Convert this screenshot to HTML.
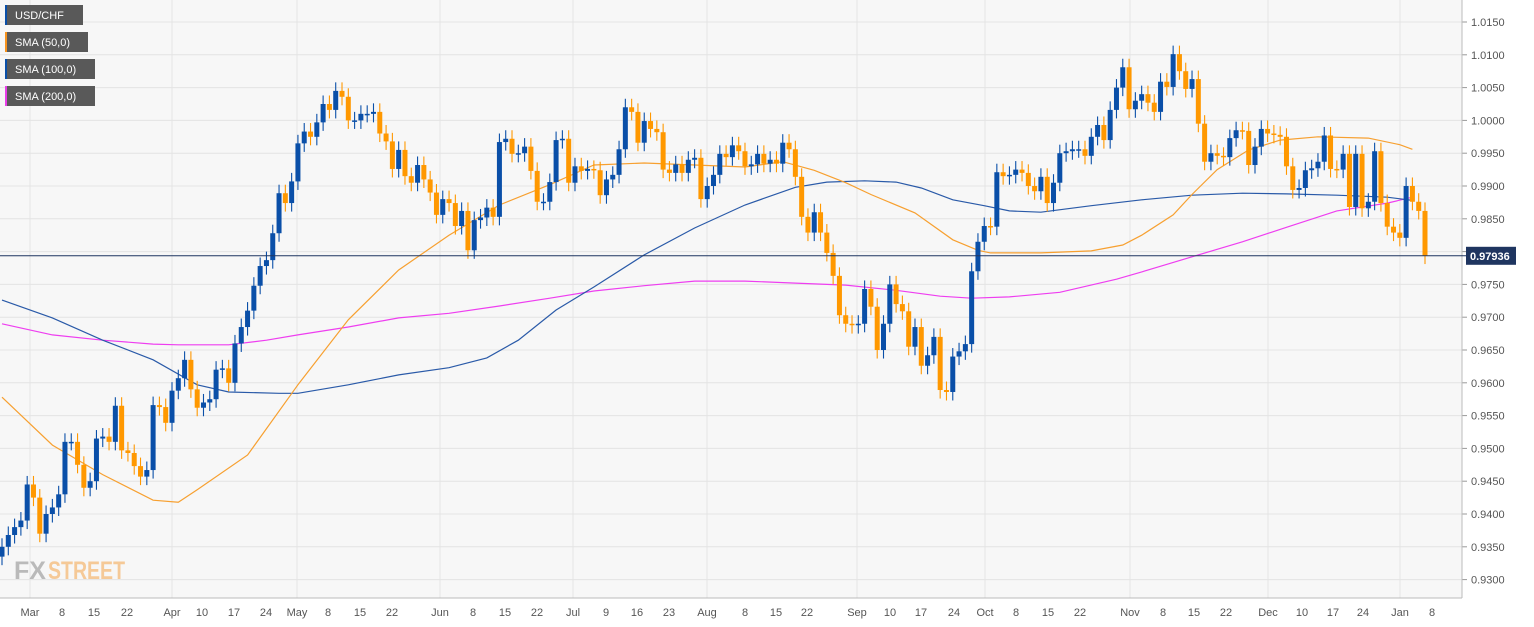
<!DOCTYPE html>
<html><head><meta charset="utf-8">
<style>
body{margin:0;background:#fff;font-family:"Liberation Sans",sans-serif;}
svg{display:block}
</style></head>
<body>
<svg id="chart" width="1534" height="627" xmlns="http://www.w3.org/2000/svg">
<rect x="0" y="0" width="1462" height="598" fill="#f7f7f7"/>
<rect x="1462" y="0" width="72" height="627" fill="#ffffff"/>
<rect x="0" y="598" width="1462" height="29" fill="#ffffff"/>
<g id="grid"></g>
<g id="yaxis"></g>
<g id="xaxis"></g>
<g opacity="0.55">
<text x="14" y="579" font-size="25" font-weight="bold" fill="#8a8a8a" font-family="Liberation Sans, sans-serif" textLength="32" lengthAdjust="spacingAndGlyphs">FX</text>
<text x="48" y="579" font-size="25" font-weight="bold" fill="#f5a54a" font-family="Liberation Sans, sans-serif" textLength="77" lengthAdjust="spacingAndGlyphs">STREET</text>
</g>
<g id="sma"></g>
<g id="candles"></g>
<g id="last"></g>
<g font-size="11" fill="#fff">
<g><rect x="5" y="5" width="78" height="20" fill="#595959"/><rect x="5" y="5" width="2" height="20" fill="#0a4fa8"/><text x="15" y="19" fill="#fff">USD/CHF</text></g>
<g><rect x="5" y="32" width="83" height="20" fill="#595959"/><rect x="5" y="32" width="2" height="20" fill="#f7931e"/><text x="15" y="46" fill="#fff">SMA (50,0)</text></g>
<g><rect x="5" y="59" width="90" height="20" fill="#595959"/><rect x="5" y="59" width="2" height="20" fill="#0a4fa8"/><text x="15" y="73" fill="#fff">SMA (100,0)</text></g>
<g><rect x="5" y="86" width="90" height="20" fill="#595959"/><rect x="5" y="86" width="2" height="20" fill="#e83ee8"/><text x="15" y="100" fill="#fff">SMA (200,0)</text></g>
</g>
</svg>
<script>
const closes=[0.9350,0.9368,0.9380,0.9390,0.9445,0.9425,0.9370,0.9400,0.9410,0.9430,0.9510,0.9510,0.9475,0.9440,0.9450,0.9515,0.9518,0.9510,0.9565,0.9497,0.9493,0.9473,0.9457,0.9467,0.9566,0.9563,0.9539,0.9588,0.9607,0.9635,0.9590,0.9562,0.9570,0.9575,0.9620,0.9622,0.9600,0.9660,0.9685,0.9710,0.9748,0.9778,0.9787,0.9828,0.9889,0.9874,0.9907,0.9965,
0.9983,0.9975,0.9997,1.0025,1.0016,1.0045,1.0036,1.0000,1.0000,1.0010,1.0010,1.0013,0.9980,0.9968,0.9926,0.9955,0.9915,0.9905,0.9932,0.9910,0.9890,0.9856,0.9880,0.9874,0.9839,0.9862,0.9802,0.9848,0.9852,0.9867,0.9853,0.9967,0.9972,0.9949,0.9950,0.9960,0.9923,0.9876,0.9876,0.9906,0.9970,0.9972,0.9905,0.9930,0.9923,0.9926,0.9924,
0.9886,0.9910,0.9917,0.9956,1.0020,1.0013,0.9966,0.9999,0.9987,0.9982,0.9925,0.9920,0.9933,0.9920,0.9940,0.9943,0.9880,0.9900,0.9917,0.9949,0.9944,0.9962,0.9953,0.9930,0.9933,0.9949,0.9934,0.9940,0.9934,0.9966,0.9956,0.9914,0.9853,0.9829,0.9860,0.9829,0.9798,0.9763,0.9703,0.9690,0.9688,0.9690,0.9743,0.9716,0.9650,0.9690,0.9750,0.9720,0.9709,0.9655,0.9685,0.9626,0.9642,0.9670,0.9589,0.9586,0.9640,0.9648,0.9659,0.9770,0.9815,
0.9839,0.9838,0.9921,0.9915,0.9917,0.9925,0.9920,0.9900,0.9892,0.9914,0.9874,0.9905,0.9950,0.9953,0.9956,0.9956,0.9946,0.9975,0.9993,0.9970,1.0016,1.0050,1.0081,1.0017,1.0030,1.0040,1.0027,1.0013,1.0059,1.0051,1.0101,1.0075,1.0048,1.0063,0.9995,0.9937,0.9950,0.9946,0.9944,0.9973,0.9985,0.9984,0.9932,0.9960,0.9987,0.9980,0.9978,0.9975,0.9930,0.9894,0.9897,0.9924,0.9927,0.9937,0.9977,0.9926,0.9925,0.9949,0.9868,0.9949,0.9866,0.9876,0.9953,0.9874,0.9838,0.9829,0.9821,0.9900,0.9876,0.9862,0.9794];
const sma50Idx=[0,8,16,24,28,31,39,47,55,63,71,79,87,94,102,110,118,124,129,134,138,145,151,155,157,165,173,178,181,186,189,193,198,203,209,217,222,224];
const sma50Val=[0.9578,0.9505,0.9460,0.9421,0.9418,0.9437,0.9490,0.9597,0.9696,0.9772,0.9825,0.9871,0.9902,0.9932,0.9935,0.9932,0.9929,0.9937,0.9924,0.9905,0.9887,0.9859,0.9818,0.9802,0.9798,0.9798,0.9801,0.9810,0.9825,0.9856,0.9887,0.9925,0.9955,0.9970,0.9975,0.9973,0.9963,0.9956];
const sma100Idx=[0,8,16,24,31,36,44,47,55,63,71,77,82,88,94,102,110,118,126,131,137,142,146,151,156,160,165,173,181,189,197,204,212,220,224];
const sma100Val=[0.9726,0.9699,0.9665,0.9635,0.9597,0.9586,0.9584,0.9584,0.9597,0.9612,0.9623,0.9638,0.9665,0.9711,0.9746,0.9795,0.9836,0.9871,0.9898,0.9906,0.9908,0.9906,0.9897,0.9879,0.9870,0.9862,0.9860,0.9870,0.9879,0.9886,0.9889,0.9888,0.9886,0.9883,0.9878];
const sma200Idx=[0,8,16,24,28,36,42,47,55,63,71,79,87,94,102,110,118,126,134,142,149,154,160,168,177,181,189,197,204,212,220,224];
const sma200Val=[0.9690,0.9673,0.9665,0.9659,0.9658,0.9658,0.9665,0.9673,0.9685,0.9699,0.9706,0.9717,0.9729,0.9740,0.9748,0.9755,0.9755,0.9752,0.9749,0.9741,0.9732,0.9729,0.9731,0.9738,0.9758,0.9769,0.9792,0.9815,0.9837,0.9862,0.9874,0.9883];
const yTicks=[1.0150,1.0100,1.0050,1.0000,0.9950,0.9900,0.9850,0.9800,0.9750,0.9700,0.9650,0.9600,0.9550,0.9500,0.9450,0.9400,0.9350,0.9300];
const xLabels=["Mar","8","15","22","Apr","10","17","24","May","8","15","22","Jun","8","15","22","Jul","9","16","23","Aug","8","15","22","Sep","10","17","24","Oct","8","15","22","Nov","8","15","22","Dec","10","17","24","Jan","8"];
const xLabelPos=[30,62,94,127,172,202,234,266,297,328,360,392,440,473,505,537,573,606,637,669,707,745,776,807,857,890,921,954,985,1016,1048,1080,1130,1163,1194,1226,1268,1302,1333,1363,1400,1432];
const lastPrice=0.97936;
const lastLabel="0.97936";

const NS="http://www.w3.org/2000/svg";
const N=closes.length;
const step=1423/(N-1);
function xS(i){return 2+i*step;}
function yS(v){return 22+(1.015-v)*6560;}
function mk(tag,attrs,parent){const e=document.createElementNS(NS,tag);for(const k in attrs)e.setAttribute(k,attrs[k]);parent.appendChild(e);return e;}
const grid=document.getElementById('grid'),yax=document.getElementById('yaxis'),xax=document.getElementById('xaxis');
yTicks.forEach(t=>{
  const y=yS(t);
  const l=mk('line',{x1:0,x2:1462,y1:y,y2:y,stroke:'#e4e4e4','stroke-width':1},grid);
  
  
  const tk=mk('line',{x1:1462,x2:1467,y1:y,y2:y,stroke:'#999'},yax);
  
  
  const tx=mk('text',{x:1471,y:y+4,'font-size':11,fill:'#555'},yax);
  tx.textContent=t.toFixed(4);
  
  
});
xLabels.forEach((s,k)=>{
  const x=xLabelPos[k];
  if(isNaN(+s)){
    const g=mk('line',{x1:x,x2:x,y1:0,y2:598,stroke:'#e4e4e4'},grid);
    
    
  }
  const t=mk('text',{x:x,y:616,'font-size':11,fill:'#555','text-anchor':'middle'},xax);
  t.textContent=s;
  
  
});
const ab=mk('line',{x1:1462,x2:1462,y1:0,y2:598,stroke:'#bbb'},yax);


const xb=mk('line',{x1:0,x2:1462,y1:598,y2:598,stroke:'#bbb'},xax);



const smaG=document.getElementById('sma');
function line(idx,val,color,name){
  const pts=idx.map((i,k)=>xS(i).toFixed(1)+','+yS(val[k]).toFixed(1)).join(' ');
  const p=mk('polyline',{points:pts,fill:'none',stroke:color,'stroke-width':1.2},smaG);
  
  
}
line(sma200Idx,sma200Val,'#ee3ef0','sma-200-line');
line(sma100Idx,sma100Val,'#2a5aa8','sma-100-line');
line(sma50Idx,sma50Val,'#f7a030','sma-50-line');

const cg=document.getElementById('candles');
const wick=0.0013;
for(let i=0;i<N;i++){
  const c=closes[i],o=i>0?closes[i-1]:c-0.0015;
  const up=c>=o,col=up?'#0a4fa8':'#ff9800';
  const hi=Math.max(o,c)+wick,lo=Math.min(o,c)-wick;
  const x=xS(i);
  const w=mk('line',{x1:x,x2:x,y1:yS(hi),y2:yS(lo),stroke:col,'stroke-width':1.1},cg);
  
  
  const top=yS(Math.max(o,c)),bot=yS(Math.min(o,c));
  const r=mk('rect',{x:x-2.5,y:top,width:5,height:Math.max(1.5,bot-top),fill:col},cg);
  
  
}
const lg=document.getElementById('last');
const ly=yS(lastPrice);
const ll=mk('line',{x1:0,x2:1466,y1:ly,y2:ly,stroke:'#1f3560','stroke-width':1},lg);


const lr=mk('rect',{x:1466,y:ly-9,width:50,height:18,fill:'#1f3560'},lg);


const lt=mk('text',{x:1470,y:ly+4,'font-size':11,fill:'#fff','font-weight':'bold'},lg);
lt.textContent=lastLabel;


</script>
</body></html>
